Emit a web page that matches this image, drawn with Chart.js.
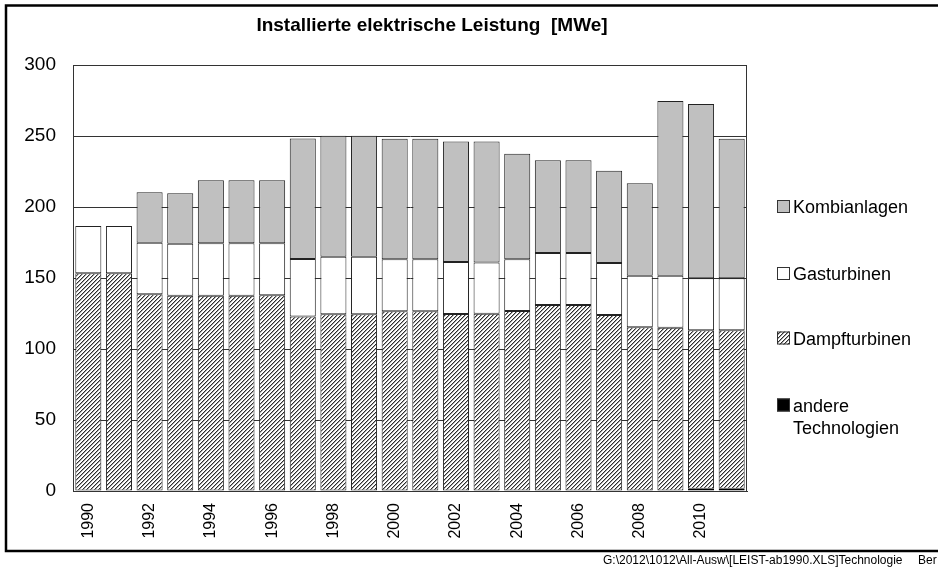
<!DOCTYPE html>
<html><head><meta charset="utf-8">
<script src="https://cdn.jsdelivr.net/npm/chart.js@4.4.1/dist/chart.umd.min.js"></script>
<style>html,body{margin:0;padding:0;background:#fff;}canvas{display:block;}</style>
</head><body>
<canvas id="c" width="938" height="568"></canvas>
<script>
// ---- data ----
const years = ['1990','1991','1992','1993','1994','1995','1996','1997','1998','1999','2000',
               '2001','2002','2003','2004','2005','2006','2007','2008','2009','2010','2011'];
const andere = [0,0,0,0,0,0,0,0,0,0,0,0,0,0,0,0,0,0,0,0,1.5,1.5];
const dampf  = [153.3,153.3,138.5,137.5,137.5,137.5,137.8,122.8,124.4,124.4,126.5,
                126.5,124.6,124.8,126.8,131.0,131.0,123.9,115.3,115.0,111.7,111.7];
const gas    = [33.3,33.3,36.4,36.7,36.9,36.9,36.6,40.6,40.6,40.6,36.7,
                36.7,36.7,36.2,36.4,36.6,36.6,36.7,36.3,36.6,36.6,36.6];
const kombi  = [0,0,35.4,35.4,44.4,44.4,44.4,84.9,85.2,85.2,84.9,
                84.9,84.9,85.2,74.3,65.3,65.3,65.0,65.1,123.0,122.7,98.3];
const seriesNames = ['andere Technologien','Dampfturbinen','Gasturbinen','Kombianlagen'];
const yTicks = [0,50,100,150,200,250,300];
const chartTitle = 'Installierte elektrische Leistung  [MWe]';
const footerText = 'G:\\2012\\1012\\All-Ausw\\[LEIST-ab1990.XLS]Technologie';
const footerTail = 'Ber';

// ---- hatch pattern ----
function makeHatch(ctx){
  const c = document.createElement('canvas'); c.width = 4; c.height = 4;
  const x = c.getContext('2d'); const id = x.createImageData(4,4);
  for (let j=0;j<4;j++) for (let i=0;i<4;i++){
    const k=(i+j)%4; let v=255;
    if (k===3) v=45; else if (k===0) v=165;
    const p=(j*4+i)*4; id.data[p]=v; id.data[p+1]=v; id.data[p+2]=v; id.data[p+3]=255;
  }
  x.putImageData(id,0,0);
  return ctx.createPattern(c,'repeat');
}
const canvas = document.getElementById('c');
const ctx0 = canvas.getContext('2d');
const hatch = makeHatch(ctx0);

const FONT = '"Liberation Sans", Arial, sans-serif';

const decor = {
  id:'decor',
  afterDraw(chart){
    const ctx = chart.ctx, a = chart.chartArea;
    ctx.save();
    // plot box
    ctx.strokeStyle = '#333'; ctx.lineWidth = 1;
    ctx.strokeRect(Math.round(a.left)+0.5, Math.round(a.top)+0.5, Math.round(a.right-a.left)-1, Math.round(a.bottom-a.top));
    // frame
    ctx.strokeStyle = '#000'; ctx.lineWidth = 2.5;
    ctx.strokeRect(6, 5.5, 960, 545.5);
    // title
    ctx.fillStyle = '#000';
    ctx.font = 'bold 19px ' + FONT;
    ctx.textAlign = 'center'; ctx.textBaseline = 'alphabetic';
    ctx.fillText(chartTitle, 432, 31);
    // footer
    ctx.font = '12px ' + FONT; ctx.textAlign = 'left';
    ctx.fillText(footerText, 603, 564);
    ctx.fillText(footerTail, 918, 564);
    // legend
    const ys = [206.5, 273.5, 338, 405];
    const ds = chart.data.datasets.slice().reverse();
    ctx.font = '18px ' + FONT;
    ds.forEach((d, n) => {
      const cy = ys[n];
      ctx.fillStyle = d.backgroundColor;
      ctx.fillRect(777, cy-6.5, 13, 13);
      ctx.strokeStyle = '#333'; ctx.lineWidth = 1;
      ctx.strokeRect(777.5, cy-6, 12, 12);
      ctx.fillStyle = '#000';
      const words = d.label.split(' ');
      let lines = [d.label];
      if (ctx.measureText(d.label).width > 145 && words.length > 1) lines = [words[0], words.slice(1).join(' ')];
      lines.forEach((ln, k) => ctx.fillText(ln, 793, cy + 6.5 + k*22.5));
    });
    ctx.restore();
  }
};

new Chart(canvas, {
  type:'bar',
  data:{
    labels: years,
    datasets:[
      {label: seriesNames[0], data: andere, backgroundColor:'#000', borderColor:'#000', borderWidth:1},
      {label: seriesNames[1], data: dampf, backgroundColor: hatch, borderColor:'#222', borderWidth:1},
      {label: seriesNames[2], data: gas, backgroundColor:'#ffffff', borderColor:'#222', borderWidth:1},
      {label: seriesNames[3], data: kombi, backgroundColor:'#c0c0c0', borderColor:'#222', borderWidth:1}
    ]
  },
  options:{
    responsive:false, animation:false,
    layout:{padding:{left:0, top:65, right:191, bottom:0}},
    datasets:{bar:{categoryPercentage:1.0, barPercentage:0.85, borderSkipped:false}},
    plugins:{legend:{display:false}, title:{display:false}, tooltip:{enabled:false}},
    scales:{
      x:{
        stacked:true,
        grid:{display:false, drawTicks:false},
        border:{display:true, color:'#333', width:1},
        ticks:{
          autoSkip:false, minRotation:90, maxRotation:90, padding:12, color:'#000',
          font:{family:FONT, size:16},
          callback:(v,i)=> i%2===0 ? years[i] : ''
        },
        afterFit:(s)=>{ s.height = 77; }
      },
      y:{
        stacked:true, min:0, max:300,
        afterBuildTicks:(s)=>{ s.ticks = yTicks.map(v=>({value:v})); },
        grid:{color:'#333', lineWidth:1, drawTicks:false},
        border:{display:true, color:'#333', width:1},
        ticks:{padding:17, color:'#000', font:{family:FONT, size:19}},
        afterFit:(s)=>{ s.width = 73; }
      }
    }
  },
  plugins:[decor]
});
</script>
</body></html>
